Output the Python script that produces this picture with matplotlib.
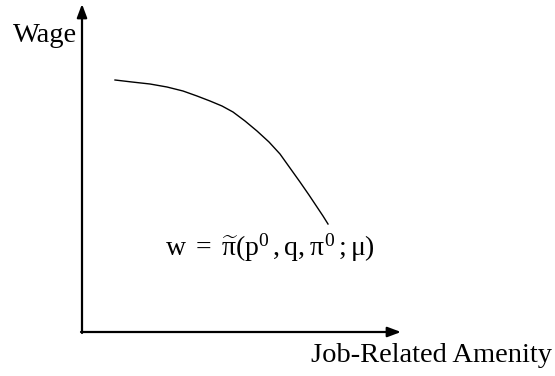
import matplotlib
matplotlib.use('Agg')
import matplotlib.pyplot as plt

plt.rcParams['font.family'] = 'Liberation Serif'
plt.rcParams['mathtext.fontset'] = 'custom'
plt.rcParams['mathtext.rm'] = 'Liberation Serif'
plt.rcParams['mathtext.it'] = 'Liberation Serif'
plt.rcParams['mathtext.bf'] = 'Liberation Serif:bold'

# hand-read curve, pixel offsets from the origin corner
amenity = [33, 50, 68, 85, 101, 115, 128, 140, 151, 163, 175, 187, 198, 208, 218, 227, 235, 241, 246]
wage = [252, 250, 248, 245, 241, 236, 231, 226, 220, 211, 201, 190, 178, 164, 150, 137, 125, 116, 108]

x_label = 'Job-Related Amenity'
y_label = 'Wage'
curve_label = r'$\mathrm{w}\;=\;\widetilde{\pi}(\mathrm{p}^{0}\,,\mathrm{q},\pi^{0}\,;\mu)$'

fig = plt.figure(figsize=(5.55, 3.76), dpi=100)
ax = fig.add_axes([0, 0, 1, 1])
ox, oy = 82, 44  # origin of the axes in pixels (from bottom-left)
ax.set_xlim(-ox, 555 - ox)
ax.set_ylim(-oy, 376 - oy)
ax.axis('off')

# axes arrows
arrow = dict(arrowstyle='-|>,head_length=0.8,head_width=0.3', lw=1.6, color='black',
             shrinkA=0, shrinkB=0)
ax.annotate('', xy=(319, 0), xytext=(-1, 0), arrowprops=arrow)
ax.annotate('', xy=(0, 328), xytext=(0, -1), arrowprops=arrow)

# curve
ax.plot(amenity, wage, color='black', lw=1)

ax.text(-5, 297, y_label, ha='right', va='center', fontsize=20.5)
ax.text(470, -23, x_label, ha='right', va='center', fontsize=20.5)
ax.text(83, 84, curve_label, ha='left', va='center', fontsize=20)

fig.savefig('out.png', dpi=100)
